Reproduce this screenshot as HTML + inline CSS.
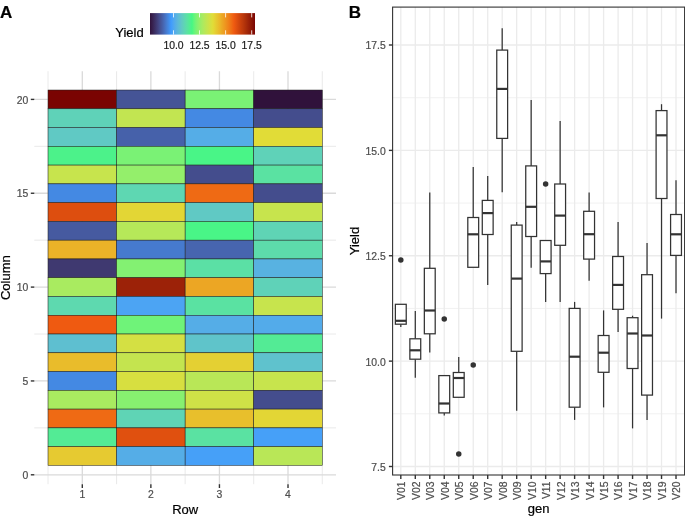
<!DOCTYPE html>
<html><head><meta charset="utf-8"><style>
html,body{margin:0;padding:0;background:#fff;width:685px;height:523px;overflow:hidden}
svg text{font-family:'Liberation Sans', sans-serif}
svg{will-change:transform}
svg text{stroke:currentColor;stroke-width:0.2px}
</style></head><body>
<svg width="685" height="523" viewBox="0 0 685 523" style="display:block">
<rect width="685" height="523" fill="#fff"/>
<line x1="48.02" y1="71.25" x2="48.02" y2="484.19" stroke="#e6e6e6" stroke-width="0.9"/>
<line x1="116.58" y1="71.25" x2="116.58" y2="484.19" stroke="#e6e6e6" stroke-width="0.9"/>
<line x1="185.15" y1="71.25" x2="185.15" y2="484.19" stroke="#e6e6e6" stroke-width="0.9"/>
<line x1="253.72" y1="71.25" x2="253.72" y2="484.19" stroke="#e6e6e6" stroke-width="0.9"/>
<line x1="322.29" y1="71.25" x2="322.29" y2="484.19" stroke="#e6e6e6" stroke-width="0.9"/>
<line x1="34.30" y1="427.88" x2="336.01" y2="427.88" stroke="#e6e6e6" stroke-width="0.9"/>
<line x1="34.30" y1="334.02" x2="336.01" y2="334.02" stroke="#e6e6e6" stroke-width="0.9"/>
<line x1="34.30" y1="240.18" x2="336.01" y2="240.18" stroke="#e6e6e6" stroke-width="0.9"/>
<line x1="34.30" y1="146.33" x2="336.01" y2="146.33" stroke="#e6e6e6" stroke-width="0.9"/>
<line x1="82.30" y1="71.25" x2="82.30" y2="484.19" stroke="#dadada" stroke-width="1.3"/>
<line x1="150.87" y1="71.25" x2="150.87" y2="484.19" stroke="#dadada" stroke-width="1.3"/>
<line x1="219.44" y1="71.25" x2="219.44" y2="484.19" stroke="#dadada" stroke-width="1.3"/>
<line x1="288.01" y1="71.25" x2="288.01" y2="484.19" stroke="#dadada" stroke-width="1.3"/>
<line x1="34.30" y1="474.80" x2="336.01" y2="474.80" stroke="#dadada" stroke-width="1.3"/>
<line x1="34.30" y1="380.95" x2="336.01" y2="380.95" stroke="#dadada" stroke-width="1.3"/>
<line x1="34.30" y1="287.10" x2="336.01" y2="287.10" stroke="#dadada" stroke-width="1.3"/>
<line x1="34.30" y1="193.25" x2="336.01" y2="193.25" stroke="#dadada" stroke-width="1.3"/>
<line x1="34.30" y1="99.40" x2="336.01" y2="99.40" stroke="#dadada" stroke-width="1.3"/>
<rect x="48.02" y="90.02" width="68.57" height="18.77" fill="#7a0402" stroke="#1a1a1a" stroke-width="0.5"/>
<rect x="116.58" y="90.02" width="68.57" height="18.77" fill="#455496" stroke="#1a1a1a" stroke-width="0.5"/>
<rect x="185.15" y="90.02" width="68.57" height="18.77" fill="#7af275" stroke="#1a1a1a" stroke-width="0.5"/>
<rect x="253.72" y="90.02" width="68.57" height="18.77" fill="#30123b" stroke="#1a1a1a" stroke-width="0.5"/>
<rect x="48.02" y="108.79" width="68.57" height="18.77" fill="#5fd2b8" stroke="#1a1a1a" stroke-width="0.5"/>
<rect x="116.58" y="108.79" width="68.57" height="18.77" fill="#c2e551" stroke="#1a1a1a" stroke-width="0.5"/>
<rect x="185.15" y="108.79" width="68.57" height="18.77" fill="#4489e3" stroke="#1a1a1a" stroke-width="0.5"/>
<rect x="253.72" y="108.79" width="68.57" height="18.77" fill="#444d8d" stroke="#1a1a1a" stroke-width="0.5"/>
<rect x="48.02" y="127.56" width="68.57" height="18.77" fill="#60c9c4" stroke="#1a1a1a" stroke-width="0.5"/>
<rect x="116.58" y="127.56" width="68.57" height="18.77" fill="#4661aa" stroke="#1a1a1a" stroke-width="0.5"/>
<rect x="185.15" y="127.56" width="68.57" height="18.77" fill="#55ade7" stroke="#1a1a1a" stroke-width="0.5"/>
<rect x="253.72" y="127.56" width="68.57" height="18.77" fill="#e1dc37" stroke="#1a1a1a" stroke-width="0.5"/>
<rect x="48.02" y="146.33" width="68.57" height="18.77" fill="#4cf28a" stroke="#1a1a1a" stroke-width="0.5"/>
<rect x="116.58" y="146.33" width="68.57" height="18.77" fill="#7af275" stroke="#1a1a1a" stroke-width="0.5"/>
<rect x="185.15" y="146.33" width="68.57" height="18.77" fill="#49f587" stroke="#1a1a1a" stroke-width="0.5"/>
<rect x="253.72" y="146.33" width="68.57" height="18.77" fill="#5fd2b8" stroke="#1a1a1a" stroke-width="0.5"/>
<rect x="48.02" y="165.10" width="68.57" height="18.77" fill="#c7e44d" stroke="#1a1a1a" stroke-width="0.5"/>
<rect x="116.58" y="165.10" width="68.57" height="18.77" fill="#94ef6b" stroke="#1a1a1a" stroke-width="0.5"/>
<rect x="185.15" y="165.10" width="68.57" height="18.77" fill="#444d8d" stroke="#1a1a1a" stroke-width="0.5"/>
<rect x="253.72" y="165.10" width="68.57" height="18.77" fill="#5ae2a2" stroke="#1a1a1a" stroke-width="0.5"/>
<rect x="48.02" y="183.87" width="68.57" height="18.77" fill="#4489e3" stroke="#1a1a1a" stroke-width="0.5"/>
<rect x="116.58" y="183.87" width="68.57" height="18.77" fill="#5ed7b2" stroke="#1a1a1a" stroke-width="0.5"/>
<rect x="185.15" y="183.87" width="68.57" height="18.77" fill="#ef6a14" stroke="#1a1a1a" stroke-width="0.5"/>
<rect x="253.72" y="183.87" width="68.57" height="18.77" fill="#444d8d" stroke="#1a1a1a" stroke-width="0.5"/>
<rect x="48.02" y="202.63" width="68.57" height="18.77" fill="#dd4e0f" stroke="#1a1a1a" stroke-width="0.5"/>
<rect x="116.58" y="202.63" width="68.57" height="18.77" fill="#e3d635" stroke="#1a1a1a" stroke-width="0.5"/>
<rect x="185.15" y="202.63" width="68.57" height="18.77" fill="#60c9c4" stroke="#1a1a1a" stroke-width="0.5"/>
<rect x="253.72" y="202.63" width="68.57" height="18.77" fill="#c7e44d" stroke="#1a1a1a" stroke-width="0.5"/>
<rect x="48.02" y="221.41" width="68.57" height="18.77" fill="#465aa0" stroke="#1a1a1a" stroke-width="0.5"/>
<rect x="116.58" y="221.41" width="68.57" height="18.77" fill="#b6e859" stroke="#1a1a1a" stroke-width="0.5"/>
<rect x="185.15" y="221.41" width="68.57" height="18.77" fill="#49f587" stroke="#1a1a1a" stroke-width="0.5"/>
<rect x="253.72" y="221.41" width="68.57" height="18.77" fill="#5fd4b5" stroke="#1a1a1a" stroke-width="0.5"/>
<rect x="48.02" y="240.18" width="68.57" height="18.77" fill="#ebb328" stroke="#1a1a1a" stroke-width="0.5"/>
<rect x="116.58" y="240.18" width="68.57" height="18.77" fill="#467ace" stroke="#1a1a1a" stroke-width="0.5"/>
<rect x="185.15" y="240.18" width="68.57" height="18.77" fill="#4765af" stroke="#1a1a1a" stroke-width="0.5"/>
<rect x="253.72" y="240.18" width="68.57" height="18.77" fill="#5ddbab" stroke="#1a1a1a" stroke-width="0.5"/>
<rect x="48.02" y="258.95" width="68.57" height="18.77" fill="#3f3970" stroke="#1a1a1a" stroke-width="0.5"/>
<rect x="116.58" y="258.95" width="68.57" height="18.77" fill="#83f172" stroke="#1a1a1a" stroke-width="0.5"/>
<rect x="185.15" y="258.95" width="68.57" height="18.77" fill="#5be0a5" stroke="#1a1a1a" stroke-width="0.5"/>
<rect x="253.72" y="258.95" width="68.57" height="18.77" fill="#58b2e1" stroke="#1a1a1a" stroke-width="0.5"/>
<rect x="48.02" y="277.72" width="68.57" height="18.77" fill="#a9eb60" stroke="#1a1a1a" stroke-width="0.5"/>
<rect x="116.58" y="277.72" width="68.57" height="18.77" fill="#9c2208" stroke="#1a1a1a" stroke-width="0.5"/>
<rect x="185.15" y="277.72" width="68.57" height="18.77" fill="#eca624" stroke="#1a1a1a" stroke-width="0.5"/>
<rect x="253.72" y="277.72" width="68.57" height="18.77" fill="#5fd2b8" stroke="#1a1a1a" stroke-width="0.5"/>
<rect x="48.02" y="296.49" width="68.57" height="18.77" fill="#5ed9af" stroke="#1a1a1a" stroke-width="0.5"/>
<rect x="116.58" y="296.49" width="68.57" height="18.77" fill="#4ca4f3" stroke="#1a1a1a" stroke-width="0.5"/>
<rect x="185.15" y="296.49" width="68.57" height="18.77" fill="#5ae2a2" stroke="#1a1a1a" stroke-width="0.5"/>
<rect x="253.72" y="296.49" width="68.57" height="18.77" fill="#c7e44d" stroke="#1a1a1a" stroke-width="0.5"/>
<rect x="48.02" y="315.25" width="68.57" height="18.77" fill="#ef5a11" stroke="#1a1a1a" stroke-width="0.5"/>
<rect x="116.58" y="315.25" width="68.57" height="18.77" fill="#6ff379" stroke="#1a1a1a" stroke-width="0.5"/>
<rect x="185.15" y="315.25" width="68.57" height="18.77" fill="#55ade7" stroke="#1a1a1a" stroke-width="0.5"/>
<rect x="253.72" y="315.25" width="68.57" height="18.77" fill="#53abea" stroke="#1a1a1a" stroke-width="0.5"/>
<rect x="48.02" y="334.02" width="68.57" height="18.77" fill="#5ebfd0" stroke="#1a1a1a" stroke-width="0.5"/>
<rect x="116.58" y="334.02" width="68.57" height="18.77" fill="#d4e043" stroke="#1a1a1a" stroke-width="0.5"/>
<rect x="185.15" y="334.02" width="68.57" height="18.77" fill="#5fc4ca" stroke="#1a1a1a" stroke-width="0.5"/>
<rect x="253.72" y="334.02" width="68.57" height="18.77" fill="#53eb95" stroke="#1a1a1a" stroke-width="0.5"/>
<rect x="48.02" y="352.80" width="68.57" height="18.77" fill="#e9bc2b" stroke="#1a1a1a" stroke-width="0.5"/>
<rect x="116.58" y="352.80" width="68.57" height="18.77" fill="#c4e44f" stroke="#1a1a1a" stroke-width="0.5"/>
<rect x="185.15" y="352.80" width="68.57" height="18.77" fill="#e4d033" stroke="#1a1a1a" stroke-width="0.5"/>
<rect x="253.72" y="352.80" width="68.57" height="18.77" fill="#5fc2cd" stroke="#1a1a1a" stroke-width="0.5"/>
<rect x="48.02" y="371.56" width="68.57" height="18.77" fill="#4489e3" stroke="#1a1a1a" stroke-width="0.5"/>
<rect x="116.58" y="371.56" width="68.57" height="18.77" fill="#d7df40" stroke="#1a1a1a" stroke-width="0.5"/>
<rect x="185.15" y="371.56" width="68.57" height="18.77" fill="#b9e757" stroke="#1a1a1a" stroke-width="0.5"/>
<rect x="253.72" y="371.56" width="68.57" height="18.77" fill="#c7e44d" stroke="#1a1a1a" stroke-width="0.5"/>
<rect x="48.02" y="390.34" width="68.57" height="18.77" fill="#a9eb60" stroke="#1a1a1a" stroke-width="0.5"/>
<rect x="116.58" y="390.34" width="68.57" height="18.77" fill="#87f070" stroke="#1a1a1a" stroke-width="0.5"/>
<rect x="185.15" y="390.34" width="68.57" height="18.77" fill="#cfe147" stroke="#1a1a1a" stroke-width="0.5"/>
<rect x="253.72" y="390.34" width="68.57" height="18.77" fill="#444d8d" stroke="#1a1a1a" stroke-width="0.5"/>
<rect x="48.02" y="409.11" width="68.57" height="18.77" fill="#ef6a14" stroke="#1a1a1a" stroke-width="0.5"/>
<rect x="116.58" y="409.11" width="68.57" height="18.77" fill="#5fd4b5" stroke="#1a1a1a" stroke-width="0.5"/>
<rect x="185.15" y="409.11" width="68.57" height="18.77" fill="#e8bf2c" stroke="#1a1a1a" stroke-width="0.5"/>
<rect x="253.72" y="409.11" width="68.57" height="18.77" fill="#e3d635" stroke="#1a1a1a" stroke-width="0.5"/>
<rect x="48.02" y="427.88" width="68.57" height="18.77" fill="#53eb95" stroke="#1a1a1a" stroke-width="0.5"/>
<rect x="116.58" y="427.88" width="68.57" height="18.77" fill="#e0500f" stroke="#1a1a1a" stroke-width="0.5"/>
<rect x="185.15" y="427.88" width="68.57" height="18.77" fill="#5ae2a2" stroke="#1a1a1a" stroke-width="0.5"/>
<rect x="253.72" y="427.88" width="68.57" height="18.77" fill="#46a0f8" stroke="#1a1a1a" stroke-width="0.5"/>
<rect x="48.02" y="446.64" width="68.57" height="18.77" fill="#e6ca31" stroke="#1a1a1a" stroke-width="0.5"/>
<rect x="116.58" y="446.64" width="68.57" height="18.77" fill="#55ade7" stroke="#1a1a1a" stroke-width="0.5"/>
<rect x="185.15" y="446.64" width="68.57" height="18.77" fill="#46a0f8" stroke="#1a1a1a" stroke-width="0.5"/>
<rect x="253.72" y="446.64" width="68.57" height="18.77" fill="#b9e757" stroke="#1a1a1a" stroke-width="0.5"/>
<line x1="30.8" y1="474.80" x2="34.30" y2="474.80" stroke="#333333" stroke-width="1.4"/>
<text x="28.4" y="478.90" text-anchor="end" font-size="10.4" fill="#4d4d4d" color="#4d4d4d">0</text>
<line x1="30.8" y1="380.95" x2="34.30" y2="380.95" stroke="#333333" stroke-width="1.4"/>
<text x="28.4" y="385.05" text-anchor="end" font-size="10.4" fill="#4d4d4d" color="#4d4d4d">5</text>
<line x1="30.8" y1="287.10" x2="34.30" y2="287.10" stroke="#333333" stroke-width="1.4"/>
<text x="28.4" y="291.20" text-anchor="end" font-size="10.4" fill="#4d4d4d" color="#4d4d4d">10</text>
<line x1="30.8" y1="193.25" x2="34.30" y2="193.25" stroke="#333333" stroke-width="1.4"/>
<text x="28.4" y="197.35" text-anchor="end" font-size="10.4" fill="#4d4d4d" color="#4d4d4d">15</text>
<line x1="30.8" y1="99.40" x2="34.30" y2="99.40" stroke="#333333" stroke-width="1.4"/>
<text x="28.4" y="103.50" text-anchor="end" font-size="10.4" fill="#4d4d4d" color="#4d4d4d">20</text>
<line x1="82.30" y1="484.19" x2="82.30" y2="488" stroke="#333333" stroke-width="1.4"/>
<text x="82.30" y="498.2" text-anchor="middle" font-size="10.4" fill="#4d4d4d" color="#4d4d4d">1</text>
<line x1="150.87" y1="484.19" x2="150.87" y2="488" stroke="#333333" stroke-width="1.4"/>
<text x="150.87" y="498.2" text-anchor="middle" font-size="10.4" fill="#4d4d4d" color="#4d4d4d">2</text>
<line x1="219.44" y1="484.19" x2="219.44" y2="488" stroke="#333333" stroke-width="1.4"/>
<text x="219.44" y="498.2" text-anchor="middle" font-size="10.4" fill="#4d4d4d" color="#4d4d4d">3</text>
<line x1="288.01" y1="484.19" x2="288.01" y2="488" stroke="#333333" stroke-width="1.4"/>
<text x="288.01" y="498.2" text-anchor="middle" font-size="10.4" fill="#4d4d4d" color="#4d4d4d">4</text>
<text x="185.15" y="513.6" text-anchor="middle" font-size="13" fill="#000" color="#000">Row</text>
<text transform="translate(10.3 277.72) rotate(-90)" text-anchor="middle" font-size="13" fill="#000" color="#000">Column</text>
<defs><linearGradient id="cb" x1="0" x2="1" y1="0" y2="0">
<stop offset="0.00" stop-color="#30123b"/>
<stop offset="0.01" stop-color="#331943"/>
<stop offset="0.02" stop-color="#361f4c"/>
<stop offset="0.03" stop-color="#392555"/>
<stop offset="0.04" stop-color="#3b2c5e"/>
<stop offset="0.05" stop-color="#3d3267"/>
<stop offset="0.06" stop-color="#3f3970"/>
<stop offset="0.07" stop-color="#413f7a"/>
<stop offset="0.08" stop-color="#434683"/>
<stop offset="0.09" stop-color="#444d8d"/>
<stop offset="0.10" stop-color="#455496"/>
<stop offset="0.11" stop-color="#465aa0"/>
<stop offset="0.12" stop-color="#4661aa"/>
<stop offset="0.13" stop-color="#4768b4"/>
<stop offset="0.14" stop-color="#476fbf"/>
<stop offset="0.15" stop-color="#4677c9"/>
<stop offset="0.16" stop-color="#467ed3"/>
<stop offset="0.17" stop-color="#4485de"/>
<stop offset="0.18" stop-color="#438ce9"/>
<stop offset="0.19" stop-color="#4194f3"/>
<stop offset="0.20" stop-color="#3e9bfe"/>
<stop offset="0.21" stop-color="#46a0f8"/>
<stop offset="0.22" stop-color="#4ca4f3"/>
<stop offset="0.23" stop-color="#51a9ed"/>
<stop offset="0.24" stop-color="#55ade7"/>
<stop offset="0.25" stop-color="#58b2e1"/>
<stop offset="0.26" stop-color="#5bb6dc"/>
<stop offset="0.27" stop-color="#5dbbd6"/>
<stop offset="0.28" stop-color="#5ebfd0"/>
<stop offset="0.29" stop-color="#5fc4ca"/>
<stop offset="0.30" stop-color="#60c9c4"/>
<stop offset="0.31" stop-color="#60cdbe"/>
<stop offset="0.32" stop-color="#5fd2b8"/>
<stop offset="0.33" stop-color="#5ed7b2"/>
<stop offset="0.34" stop-color="#5ddbab"/>
<stop offset="0.35" stop-color="#5be0a5"/>
<stop offset="0.36" stop-color="#58e49f"/>
<stop offset="0.37" stop-color="#55e998"/>
<stop offset="0.38" stop-color="#51ee91"/>
<stop offset="0.39" stop-color="#4cf28a"/>
<stop offset="0.40" stop-color="#46f783"/>
<stop offset="0.41" stop-color="#56f680"/>
<stop offset="0.42" stop-color="#64f57c"/>
<stop offset="0.43" stop-color="#6ff379"/>
<stop offset="0.44" stop-color="#7af275"/>
<stop offset="0.45" stop-color="#83f172"/>
<stop offset="0.46" stop-color="#8cf06f"/>
<stop offset="0.47" stop-color="#94ef6b"/>
<stop offset="0.48" stop-color="#9bed67"/>
<stop offset="0.49" stop-color="#a2ec64"/>
<stop offset="0.50" stop-color="#a9eb60"/>
<stop offset="0.51" stop-color="#b0e95d"/>
<stop offset="0.52" stop-color="#b6e859"/>
<stop offset="0.53" stop-color="#bce655"/>
<stop offset="0.54" stop-color="#c2e551"/>
<stop offset="0.55" stop-color="#c7e44d"/>
<stop offset="0.56" stop-color="#cde249"/>
<stop offset="0.57" stop-color="#d2e145"/>
<stop offset="0.58" stop-color="#d7df40"/>
<stop offset="0.59" stop-color="#dcde3c"/>
<stop offset="0.60" stop-color="#e1dc37"/>
<stop offset="0.61" stop-color="#e3d635"/>
<stop offset="0.62" stop-color="#e4d033"/>
<stop offset="0.63" stop-color="#e6ca31"/>
<stop offset="0.64" stop-color="#e7c52f"/>
<stop offset="0.65" stop-color="#e8bf2c"/>
<stop offset="0.66" stop-color="#eab92a"/>
<stop offset="0.67" stop-color="#ebb328"/>
<stop offset="0.68" stop-color="#ebac26"/>
<stop offset="0.69" stop-color="#eca624"/>
<stop offset="0.70" stop-color="#eda022"/>
<stop offset="0.71" stop-color="#ee9a20"/>
<stop offset="0.72" stop-color="#ee931f"/>
<stop offset="0.73" stop-color="#ee8d1d"/>
<stop offset="0.74" stop-color="#ef861b"/>
<stop offset="0.75" stop-color="#ef8019"/>
<stop offset="0.76" stop-color="#ef7917"/>
<stop offset="0.77" stop-color="#ef7116"/>
<stop offset="0.78" stop-color="#ef6a14"/>
<stop offset="0.79" stop-color="#ef6212"/>
<stop offset="0.80" stop-color="#ef5a11"/>
<stop offset="0.81" stop-color="#e95610"/>
<stop offset="0.82" stop-color="#e35210"/>
<stop offset="0.83" stop-color="#dd4e0f"/>
<stop offset="0.84" stop-color="#d74a0e"/>
<stop offset="0.85" stop-color="#d1460e"/>
<stop offset="0.86" stop-color="#cb420d"/>
<stop offset="0.87" stop-color="#c53e0c"/>
<stop offset="0.88" stop-color="#bf3b0c"/>
<stop offset="0.89" stop-color="#b9370b"/>
<stop offset="0.90" stop-color="#b3330a"/>
<stop offset="0.91" stop-color="#ad2f0a"/>
<stop offset="0.92" stop-color="#a72b09"/>
<stop offset="0.93" stop-color="#a12609"/>
<stop offset="0.94" stop-color="#9c2208"/>
<stop offset="0.95" stop-color="#961e07"/>
<stop offset="0.96" stop-color="#901a07"/>
<stop offset="0.97" stop-color="#8b1506"/>
<stop offset="0.98" stop-color="#851005"/>
<stop offset="0.99" stop-color="#7f0a03"/>
<stop offset="1.00" stop-color="#7a0402"/>
</linearGradient></defs>
<rect x="150" y="13.1" width="105" height="21.5" fill="url(#cb)"/>
<line x1="173.5" y1="13.1" x2="173.5" y2="17.4" stroke="#fff" stroke-opacity="0.8" stroke-width="1"/>
<line x1="173.5" y1="30.3" x2="173.5" y2="34.6" stroke="#fff" stroke-opacity="0.8" stroke-width="1"/>
<text x="173.5" y="48.7" text-anchor="middle" font-size="10.4" fill="#1a1a1a" color="#1a1a1a">10.0</text>
<line x1="199.5" y1="13.1" x2="199.5" y2="17.4" stroke="#fff" stroke-opacity="0.8" stroke-width="1"/>
<line x1="199.5" y1="30.3" x2="199.5" y2="34.6" stroke="#fff" stroke-opacity="0.8" stroke-width="1"/>
<text x="199.5" y="48.7" text-anchor="middle" font-size="10.4" fill="#1a1a1a" color="#1a1a1a">12.5</text>
<line x1="225.6" y1="13.1" x2="225.6" y2="17.4" stroke="#fff" stroke-opacity="0.8" stroke-width="1"/>
<line x1="225.6" y1="30.3" x2="225.6" y2="34.6" stroke="#fff" stroke-opacity="0.8" stroke-width="1"/>
<text x="225.6" y="48.7" text-anchor="middle" font-size="10.4" fill="#1a1a1a" color="#1a1a1a">15.0</text>
<line x1="251.7" y1="13.1" x2="251.7" y2="17.4" stroke="#fff" stroke-opacity="0.8" stroke-width="1"/>
<line x1="251.7" y1="30.3" x2="251.7" y2="34.6" stroke="#fff" stroke-opacity="0.8" stroke-width="1"/>
<text x="251.7" y="48.7" text-anchor="middle" font-size="10.4" fill="#1a1a1a" color="#1a1a1a">17.5</text>
<text x="115.3" y="36.8" font-size="13" fill="#000" color="#000">Yield</text>
<text x="0.1" y="18.3" font-size="17" font-weight="bold" fill="#000" color="#000">A</text>
<text x="348.8" y="18.3" font-size="17" font-weight="bold" fill="#000" color="#000">B</text>
<line x1="392.6" y1="413.81" x2="684.6" y2="413.81" stroke="#ebebeb" stroke-width="0.7"/>
<line x1="392.6" y1="308.44" x2="684.6" y2="308.44" stroke="#ebebeb" stroke-width="0.7"/>
<line x1="392.6" y1="203.06" x2="684.6" y2="203.06" stroke="#ebebeb" stroke-width="0.7"/>
<line x1="392.6" y1="97.69" x2="684.6" y2="97.69" stroke="#ebebeb" stroke-width="0.7"/>
<line x1="392.6" y1="466.50" x2="684.6" y2="466.50" stroke="#ebebeb" stroke-width="1.3"/>
<line x1="392.6" y1="361.12" x2="684.6" y2="361.12" stroke="#ebebeb" stroke-width="1.3"/>
<line x1="392.6" y1="255.75" x2="684.6" y2="255.75" stroke="#ebebeb" stroke-width="1.3"/>
<line x1="392.6" y1="150.38" x2="684.6" y2="150.38" stroke="#ebebeb" stroke-width="1.3"/>
<line x1="392.6" y1="45.00" x2="684.6" y2="45.00" stroke="#ebebeb" stroke-width="1.3"/>
<line x1="400.80" y1="7.1" x2="400.80" y2="475.0" stroke="#ebebeb" stroke-width="1.3"/>
<line x1="415.29" y1="7.1" x2="415.29" y2="475.0" stroke="#ebebeb" stroke-width="1.3"/>
<line x1="429.77" y1="7.1" x2="429.77" y2="475.0" stroke="#ebebeb" stroke-width="1.3"/>
<line x1="444.25" y1="7.1" x2="444.25" y2="475.0" stroke="#ebebeb" stroke-width="1.3"/>
<line x1="458.74" y1="7.1" x2="458.74" y2="475.0" stroke="#ebebeb" stroke-width="1.3"/>
<line x1="473.23" y1="7.1" x2="473.23" y2="475.0" stroke="#ebebeb" stroke-width="1.3"/>
<line x1="487.71" y1="7.1" x2="487.71" y2="475.0" stroke="#ebebeb" stroke-width="1.3"/>
<line x1="502.19" y1="7.1" x2="502.19" y2="475.0" stroke="#ebebeb" stroke-width="1.3"/>
<line x1="516.68" y1="7.1" x2="516.68" y2="475.0" stroke="#ebebeb" stroke-width="1.3"/>
<line x1="531.16" y1="7.1" x2="531.16" y2="475.0" stroke="#ebebeb" stroke-width="1.3"/>
<line x1="545.65" y1="7.1" x2="545.65" y2="475.0" stroke="#ebebeb" stroke-width="1.3"/>
<line x1="560.13" y1="7.1" x2="560.13" y2="475.0" stroke="#ebebeb" stroke-width="1.3"/>
<line x1="574.62" y1="7.1" x2="574.62" y2="475.0" stroke="#ebebeb" stroke-width="1.3"/>
<line x1="589.11" y1="7.1" x2="589.11" y2="475.0" stroke="#ebebeb" stroke-width="1.3"/>
<line x1="603.59" y1="7.1" x2="603.59" y2="475.0" stroke="#ebebeb" stroke-width="1.3"/>
<line x1="618.08" y1="7.1" x2="618.08" y2="475.0" stroke="#ebebeb" stroke-width="1.3"/>
<line x1="632.56" y1="7.1" x2="632.56" y2="475.0" stroke="#ebebeb" stroke-width="1.3"/>
<line x1="647.05" y1="7.1" x2="647.05" y2="475.0" stroke="#ebebeb" stroke-width="1.3"/>
<line x1="661.53" y1="7.1" x2="661.53" y2="475.0" stroke="#ebebeb" stroke-width="1.3"/>
<line x1="676.01" y1="7.1" x2="676.01" y2="475.0" stroke="#ebebeb" stroke-width="1.3"/>
<line x1="400.80" y1="324.2" x2="400.80" y2="327.1" stroke="#333333" stroke-width="1.25"/>
<rect x="395.37" y="304.3" width="10.86" height="19.90" fill="#fff" stroke="#333333" stroke-width="1.25"/>
<line x1="395.37" y1="320.8" x2="406.23" y2="320.8" stroke="#333333" stroke-width="2.2"/>
<circle cx="400.80" cy="260.1" r="2.75" fill="#333333"/>
<line x1="415.29" y1="310.9" x2="415.29" y2="338.8" stroke="#333333" stroke-width="1.25"/>
<line x1="415.29" y1="359.2" x2="415.29" y2="377.8" stroke="#333333" stroke-width="1.25"/>
<rect x="409.86" y="338.8" width="10.86" height="20.40" fill="#fff" stroke="#333333" stroke-width="1.25"/>
<line x1="409.86" y1="350.3" x2="420.72" y2="350.3" stroke="#333333" stroke-width="2.2"/>
<line x1="429.77" y1="192.4" x2="429.77" y2="268.3" stroke="#333333" stroke-width="1.25"/>
<line x1="429.77" y1="333.8" x2="429.77" y2="352.6" stroke="#333333" stroke-width="1.25"/>
<rect x="424.34" y="268.3" width="10.86" height="65.50" fill="#fff" stroke="#333333" stroke-width="1.25"/>
<line x1="424.34" y1="310.5" x2="435.20" y2="310.5" stroke="#333333" stroke-width="2.2"/>
<line x1="444.25" y1="412.9" x2="444.25" y2="415.4" stroke="#333333" stroke-width="1.25"/>
<rect x="438.82" y="375.6" width="10.86" height="37.30" fill="#fff" stroke="#333333" stroke-width="1.25"/>
<line x1="438.82" y1="403.5" x2="449.69" y2="403.5" stroke="#333333" stroke-width="2.2"/>
<circle cx="444.25" cy="318.9" r="2.75" fill="#333333"/>
<line x1="458.74" y1="357.0" x2="458.74" y2="372.5" stroke="#333333" stroke-width="1.25"/>
<rect x="453.31" y="372.5" width="10.86" height="24.80" fill="#fff" stroke="#333333" stroke-width="1.25"/>
<line x1="453.31" y1="378.0" x2="464.17" y2="378.0" stroke="#333333" stroke-width="2.2"/>
<circle cx="458.74" cy="454.0" r="2.75" fill="#333333"/>
<line x1="473.23" y1="166.9" x2="473.23" y2="217.5" stroke="#333333" stroke-width="1.25"/>
<rect x="467.80" y="217.5" width="10.86" height="49.80" fill="#fff" stroke="#333333" stroke-width="1.25"/>
<line x1="467.80" y1="234.3" x2="478.66" y2="234.3" stroke="#333333" stroke-width="2.2"/>
<circle cx="473.23" cy="365.1" r="2.75" fill="#333333"/>
<line x1="487.71" y1="176.1" x2="487.71" y2="200.4" stroke="#333333" stroke-width="1.25"/>
<line x1="487.71" y1="234.5" x2="487.71" y2="284.9" stroke="#333333" stroke-width="1.25"/>
<rect x="482.28" y="200.4" width="10.86" height="34.10" fill="#fff" stroke="#333333" stroke-width="1.25"/>
<line x1="482.28" y1="213.1" x2="493.14" y2="213.1" stroke="#333333" stroke-width="2.2"/>
<line x1="502.19" y1="28.2" x2="502.19" y2="50.1" stroke="#333333" stroke-width="1.25"/>
<line x1="502.19" y1="138.4" x2="502.19" y2="192.2" stroke="#333333" stroke-width="1.25"/>
<rect x="496.76" y="50.1" width="10.86" height="88.30" fill="#fff" stroke="#333333" stroke-width="1.25"/>
<line x1="496.76" y1="88.9" x2="507.62" y2="88.9" stroke="#333333" stroke-width="2.2"/>
<line x1="516.68" y1="221.9" x2="516.68" y2="225.1" stroke="#333333" stroke-width="1.25"/>
<line x1="516.68" y1="351.3" x2="516.68" y2="410.8" stroke="#333333" stroke-width="1.25"/>
<rect x="511.25" y="225.1" width="10.86" height="126.20" fill="#fff" stroke="#333333" stroke-width="1.25"/>
<line x1="511.25" y1="278.6" x2="522.11" y2="278.6" stroke="#333333" stroke-width="2.2"/>
<line x1="531.16" y1="100.0" x2="531.16" y2="165.9" stroke="#333333" stroke-width="1.25"/>
<line x1="531.16" y1="236.5" x2="531.16" y2="267.8" stroke="#333333" stroke-width="1.25"/>
<rect x="525.74" y="165.9" width="10.86" height="70.60" fill="#fff" stroke="#333333" stroke-width="1.25"/>
<line x1="525.74" y1="206.8" x2="536.59" y2="206.8" stroke="#333333" stroke-width="2.2"/>
<line x1="545.65" y1="273.6" x2="545.65" y2="302.0" stroke="#333333" stroke-width="1.25"/>
<rect x="540.22" y="240.5" width="10.86" height="33.10" fill="#fff" stroke="#333333" stroke-width="1.25"/>
<line x1="540.22" y1="261.4" x2="551.08" y2="261.4" stroke="#333333" stroke-width="2.2"/>
<circle cx="545.65" cy="184.0" r="2.75" fill="#333333"/>
<line x1="560.13" y1="121.1" x2="560.13" y2="184.0" stroke="#333333" stroke-width="1.25"/>
<line x1="560.13" y1="245.3" x2="560.13" y2="302.0" stroke="#333333" stroke-width="1.25"/>
<rect x="554.71" y="184.0" width="10.86" height="61.30" fill="#fff" stroke="#333333" stroke-width="1.25"/>
<line x1="554.71" y1="215.6" x2="565.56" y2="215.6" stroke="#333333" stroke-width="2.2"/>
<line x1="574.62" y1="301.9" x2="574.62" y2="308.4" stroke="#333333" stroke-width="1.25"/>
<line x1="574.62" y1="407.2" x2="574.62" y2="419.9" stroke="#333333" stroke-width="1.25"/>
<rect x="569.19" y="308.4" width="10.86" height="98.80" fill="#fff" stroke="#333333" stroke-width="1.25"/>
<line x1="569.19" y1="356.7" x2="580.05" y2="356.7" stroke="#333333" stroke-width="2.2"/>
<line x1="589.11" y1="192.4" x2="589.11" y2="211.3" stroke="#333333" stroke-width="1.25"/>
<line x1="589.11" y1="259.1" x2="589.11" y2="280.7" stroke="#333333" stroke-width="1.25"/>
<rect x="583.68" y="211.3" width="10.86" height="47.80" fill="#fff" stroke="#333333" stroke-width="1.25"/>
<line x1="583.68" y1="234.2" x2="594.53" y2="234.2" stroke="#333333" stroke-width="2.2"/>
<line x1="603.59" y1="310.4" x2="603.59" y2="335.5" stroke="#333333" stroke-width="1.25"/>
<line x1="603.59" y1="372.3" x2="603.59" y2="407.4" stroke="#333333" stroke-width="1.25"/>
<rect x="598.16" y="335.5" width="10.86" height="36.80" fill="#fff" stroke="#333333" stroke-width="1.25"/>
<line x1="598.16" y1="352.7" x2="609.02" y2="352.7" stroke="#333333" stroke-width="2.2"/>
<line x1="618.08" y1="221.9" x2="618.08" y2="256.5" stroke="#333333" stroke-width="1.25"/>
<line x1="618.08" y1="309.3" x2="618.08" y2="331.9" stroke="#333333" stroke-width="1.25"/>
<rect x="612.65" y="256.5" width="10.86" height="52.80" fill="#fff" stroke="#333333" stroke-width="1.25"/>
<line x1="612.65" y1="284.9" x2="623.50" y2="284.9" stroke="#333333" stroke-width="2.2"/>
<line x1="632.56" y1="315.7" x2="632.56" y2="317.7" stroke="#333333" stroke-width="1.25"/>
<line x1="632.56" y1="368.5" x2="632.56" y2="428.4" stroke="#333333" stroke-width="1.25"/>
<rect x="627.13" y="317.7" width="10.86" height="50.80" fill="#fff" stroke="#333333" stroke-width="1.25"/>
<line x1="627.13" y1="333.5" x2="637.99" y2="333.5" stroke="#333333" stroke-width="2.2"/>
<line x1="647.05" y1="243.1" x2="647.05" y2="274.7" stroke="#333333" stroke-width="1.25"/>
<line x1="647.05" y1="395.1" x2="647.05" y2="420.0" stroke="#333333" stroke-width="1.25"/>
<rect x="641.62" y="274.7" width="10.86" height="120.40" fill="#fff" stroke="#333333" stroke-width="1.25"/>
<line x1="641.62" y1="335.5" x2="652.48" y2="335.5" stroke="#333333" stroke-width="2.2"/>
<line x1="661.53" y1="104.2" x2="661.53" y2="110.6" stroke="#333333" stroke-width="1.25"/>
<line x1="661.53" y1="198.5" x2="661.53" y2="318.6" stroke="#333333" stroke-width="1.25"/>
<rect x="656.10" y="110.6" width="10.86" height="87.90" fill="#fff" stroke="#333333" stroke-width="1.25"/>
<line x1="656.10" y1="135.3" x2="666.96" y2="135.3" stroke="#333333" stroke-width="2.2"/>
<line x1="676.01" y1="180.3" x2="676.01" y2="214.5" stroke="#333333" stroke-width="1.25"/>
<line x1="676.01" y1="255.4" x2="676.01" y2="293.2" stroke="#333333" stroke-width="1.25"/>
<rect x="670.59" y="214.5" width="10.86" height="40.90" fill="#fff" stroke="#333333" stroke-width="1.25"/>
<line x1="670.59" y1="234.3" x2="681.44" y2="234.3" stroke="#333333" stroke-width="2.2"/>
<rect x="392.6" y="7.1" width="292.00" height="467.90" fill="none" stroke="#333333" stroke-width="1.1"/>
<line x1="388.9" y1="466.50" x2="392.6" y2="466.50" stroke="#333333" stroke-width="1.4"/>
<text x="385.8" y="470.90" text-anchor="end" font-size="10.4" fill="#4d4d4d" color="#4d4d4d">7.5</text>
<line x1="388.9" y1="361.12" x2="392.6" y2="361.12" stroke="#333333" stroke-width="1.4"/>
<text x="385.8" y="365.52" text-anchor="end" font-size="10.4" fill="#4d4d4d" color="#4d4d4d">10.0</text>
<line x1="388.9" y1="255.75" x2="392.6" y2="255.75" stroke="#333333" stroke-width="1.4"/>
<text x="385.8" y="260.15" text-anchor="end" font-size="10.4" fill="#4d4d4d" color="#4d4d4d">12.5</text>
<line x1="388.9" y1="150.38" x2="392.6" y2="150.38" stroke="#333333" stroke-width="1.4"/>
<text x="385.8" y="154.78" text-anchor="end" font-size="10.4" fill="#4d4d4d" color="#4d4d4d">15.0</text>
<line x1="388.9" y1="45.00" x2="392.6" y2="45.00" stroke="#333333" stroke-width="1.4"/>
<text x="385.8" y="49.40" text-anchor="end" font-size="10.4" fill="#4d4d4d" color="#4d4d4d">17.5</text>
<line x1="400.80" y1="475.0" x2="400.80" y2="479.0" stroke="#333333" stroke-width="1.4"/>
<text transform="translate(405.20 481.4) rotate(-90)" text-anchor="end" font-size="10.4" fill="#4d4d4d" color="#4d4d4d">V01</text>
<line x1="415.29" y1="475.0" x2="415.29" y2="479.0" stroke="#333333" stroke-width="1.4"/>
<text transform="translate(419.69 481.4) rotate(-90)" text-anchor="end" font-size="10.4" fill="#4d4d4d" color="#4d4d4d">V02</text>
<line x1="429.77" y1="475.0" x2="429.77" y2="479.0" stroke="#333333" stroke-width="1.4"/>
<text transform="translate(434.17 481.4) rotate(-90)" text-anchor="end" font-size="10.4" fill="#4d4d4d" color="#4d4d4d">V03</text>
<line x1="444.25" y1="475.0" x2="444.25" y2="479.0" stroke="#333333" stroke-width="1.4"/>
<text transform="translate(448.65 481.4) rotate(-90)" text-anchor="end" font-size="10.4" fill="#4d4d4d" color="#4d4d4d">V04</text>
<line x1="458.74" y1="475.0" x2="458.74" y2="479.0" stroke="#333333" stroke-width="1.4"/>
<text transform="translate(463.14 481.4) rotate(-90)" text-anchor="end" font-size="10.4" fill="#4d4d4d" color="#4d4d4d">V05</text>
<line x1="473.23" y1="475.0" x2="473.23" y2="479.0" stroke="#333333" stroke-width="1.4"/>
<text transform="translate(477.62 481.4) rotate(-90)" text-anchor="end" font-size="10.4" fill="#4d4d4d" color="#4d4d4d">V06</text>
<line x1="487.71" y1="475.0" x2="487.71" y2="479.0" stroke="#333333" stroke-width="1.4"/>
<text transform="translate(492.11 481.4) rotate(-90)" text-anchor="end" font-size="10.4" fill="#4d4d4d" color="#4d4d4d">V07</text>
<line x1="502.19" y1="475.0" x2="502.19" y2="479.0" stroke="#333333" stroke-width="1.4"/>
<text transform="translate(506.59 481.4) rotate(-90)" text-anchor="end" font-size="10.4" fill="#4d4d4d" color="#4d4d4d">V08</text>
<line x1="516.68" y1="475.0" x2="516.68" y2="479.0" stroke="#333333" stroke-width="1.4"/>
<text transform="translate(521.08 481.4) rotate(-90)" text-anchor="end" font-size="10.4" fill="#4d4d4d" color="#4d4d4d">V09</text>
<line x1="531.16" y1="475.0" x2="531.16" y2="479.0" stroke="#333333" stroke-width="1.4"/>
<text transform="translate(535.56 481.4) rotate(-90)" text-anchor="end" font-size="10.4" fill="#4d4d4d" color="#4d4d4d">V10</text>
<line x1="545.65" y1="475.0" x2="545.65" y2="479.0" stroke="#333333" stroke-width="1.4"/>
<text transform="translate(550.05 481.4) rotate(-90)" text-anchor="end" font-size="10.4" fill="#4d4d4d" color="#4d4d4d">V11</text>
<line x1="560.13" y1="475.0" x2="560.13" y2="479.0" stroke="#333333" stroke-width="1.4"/>
<text transform="translate(564.53 481.4) rotate(-90)" text-anchor="end" font-size="10.4" fill="#4d4d4d" color="#4d4d4d">V12</text>
<line x1="574.62" y1="475.0" x2="574.62" y2="479.0" stroke="#333333" stroke-width="1.4"/>
<text transform="translate(579.02 481.4) rotate(-90)" text-anchor="end" font-size="10.4" fill="#4d4d4d" color="#4d4d4d">V13</text>
<line x1="589.11" y1="475.0" x2="589.11" y2="479.0" stroke="#333333" stroke-width="1.4"/>
<text transform="translate(593.50 481.4) rotate(-90)" text-anchor="end" font-size="10.4" fill="#4d4d4d" color="#4d4d4d">V14</text>
<line x1="603.59" y1="475.0" x2="603.59" y2="479.0" stroke="#333333" stroke-width="1.4"/>
<text transform="translate(607.99 481.4) rotate(-90)" text-anchor="end" font-size="10.4" fill="#4d4d4d" color="#4d4d4d">V15</text>
<line x1="618.08" y1="475.0" x2="618.08" y2="479.0" stroke="#333333" stroke-width="1.4"/>
<text transform="translate(622.48 481.4) rotate(-90)" text-anchor="end" font-size="10.4" fill="#4d4d4d" color="#4d4d4d">V16</text>
<line x1="632.56" y1="475.0" x2="632.56" y2="479.0" stroke="#333333" stroke-width="1.4"/>
<text transform="translate(636.96 481.4) rotate(-90)" text-anchor="end" font-size="10.4" fill="#4d4d4d" color="#4d4d4d">V17</text>
<line x1="647.05" y1="475.0" x2="647.05" y2="479.0" stroke="#333333" stroke-width="1.4"/>
<text transform="translate(651.45 481.4) rotate(-90)" text-anchor="end" font-size="10.4" fill="#4d4d4d" color="#4d4d4d">V18</text>
<line x1="661.53" y1="475.0" x2="661.53" y2="479.0" stroke="#333333" stroke-width="1.4"/>
<text transform="translate(665.93 481.4) rotate(-90)" text-anchor="end" font-size="10.4" fill="#4d4d4d" color="#4d4d4d">V19</text>
<line x1="676.01" y1="475.0" x2="676.01" y2="479.0" stroke="#333333" stroke-width="1.4"/>
<text transform="translate(680.41 481.4) rotate(-90)" text-anchor="end" font-size="10.4" fill="#4d4d4d" color="#4d4d4d">V20</text>
<text x="538.60" y="513.4" text-anchor="middle" font-size="13" fill="#000" color="#000">gen</text>
<text transform="translate(359.2 241.05) rotate(-90)" text-anchor="middle" font-size="13" fill="#000" color="#000">Yield</text>
</svg>
</body></html>
